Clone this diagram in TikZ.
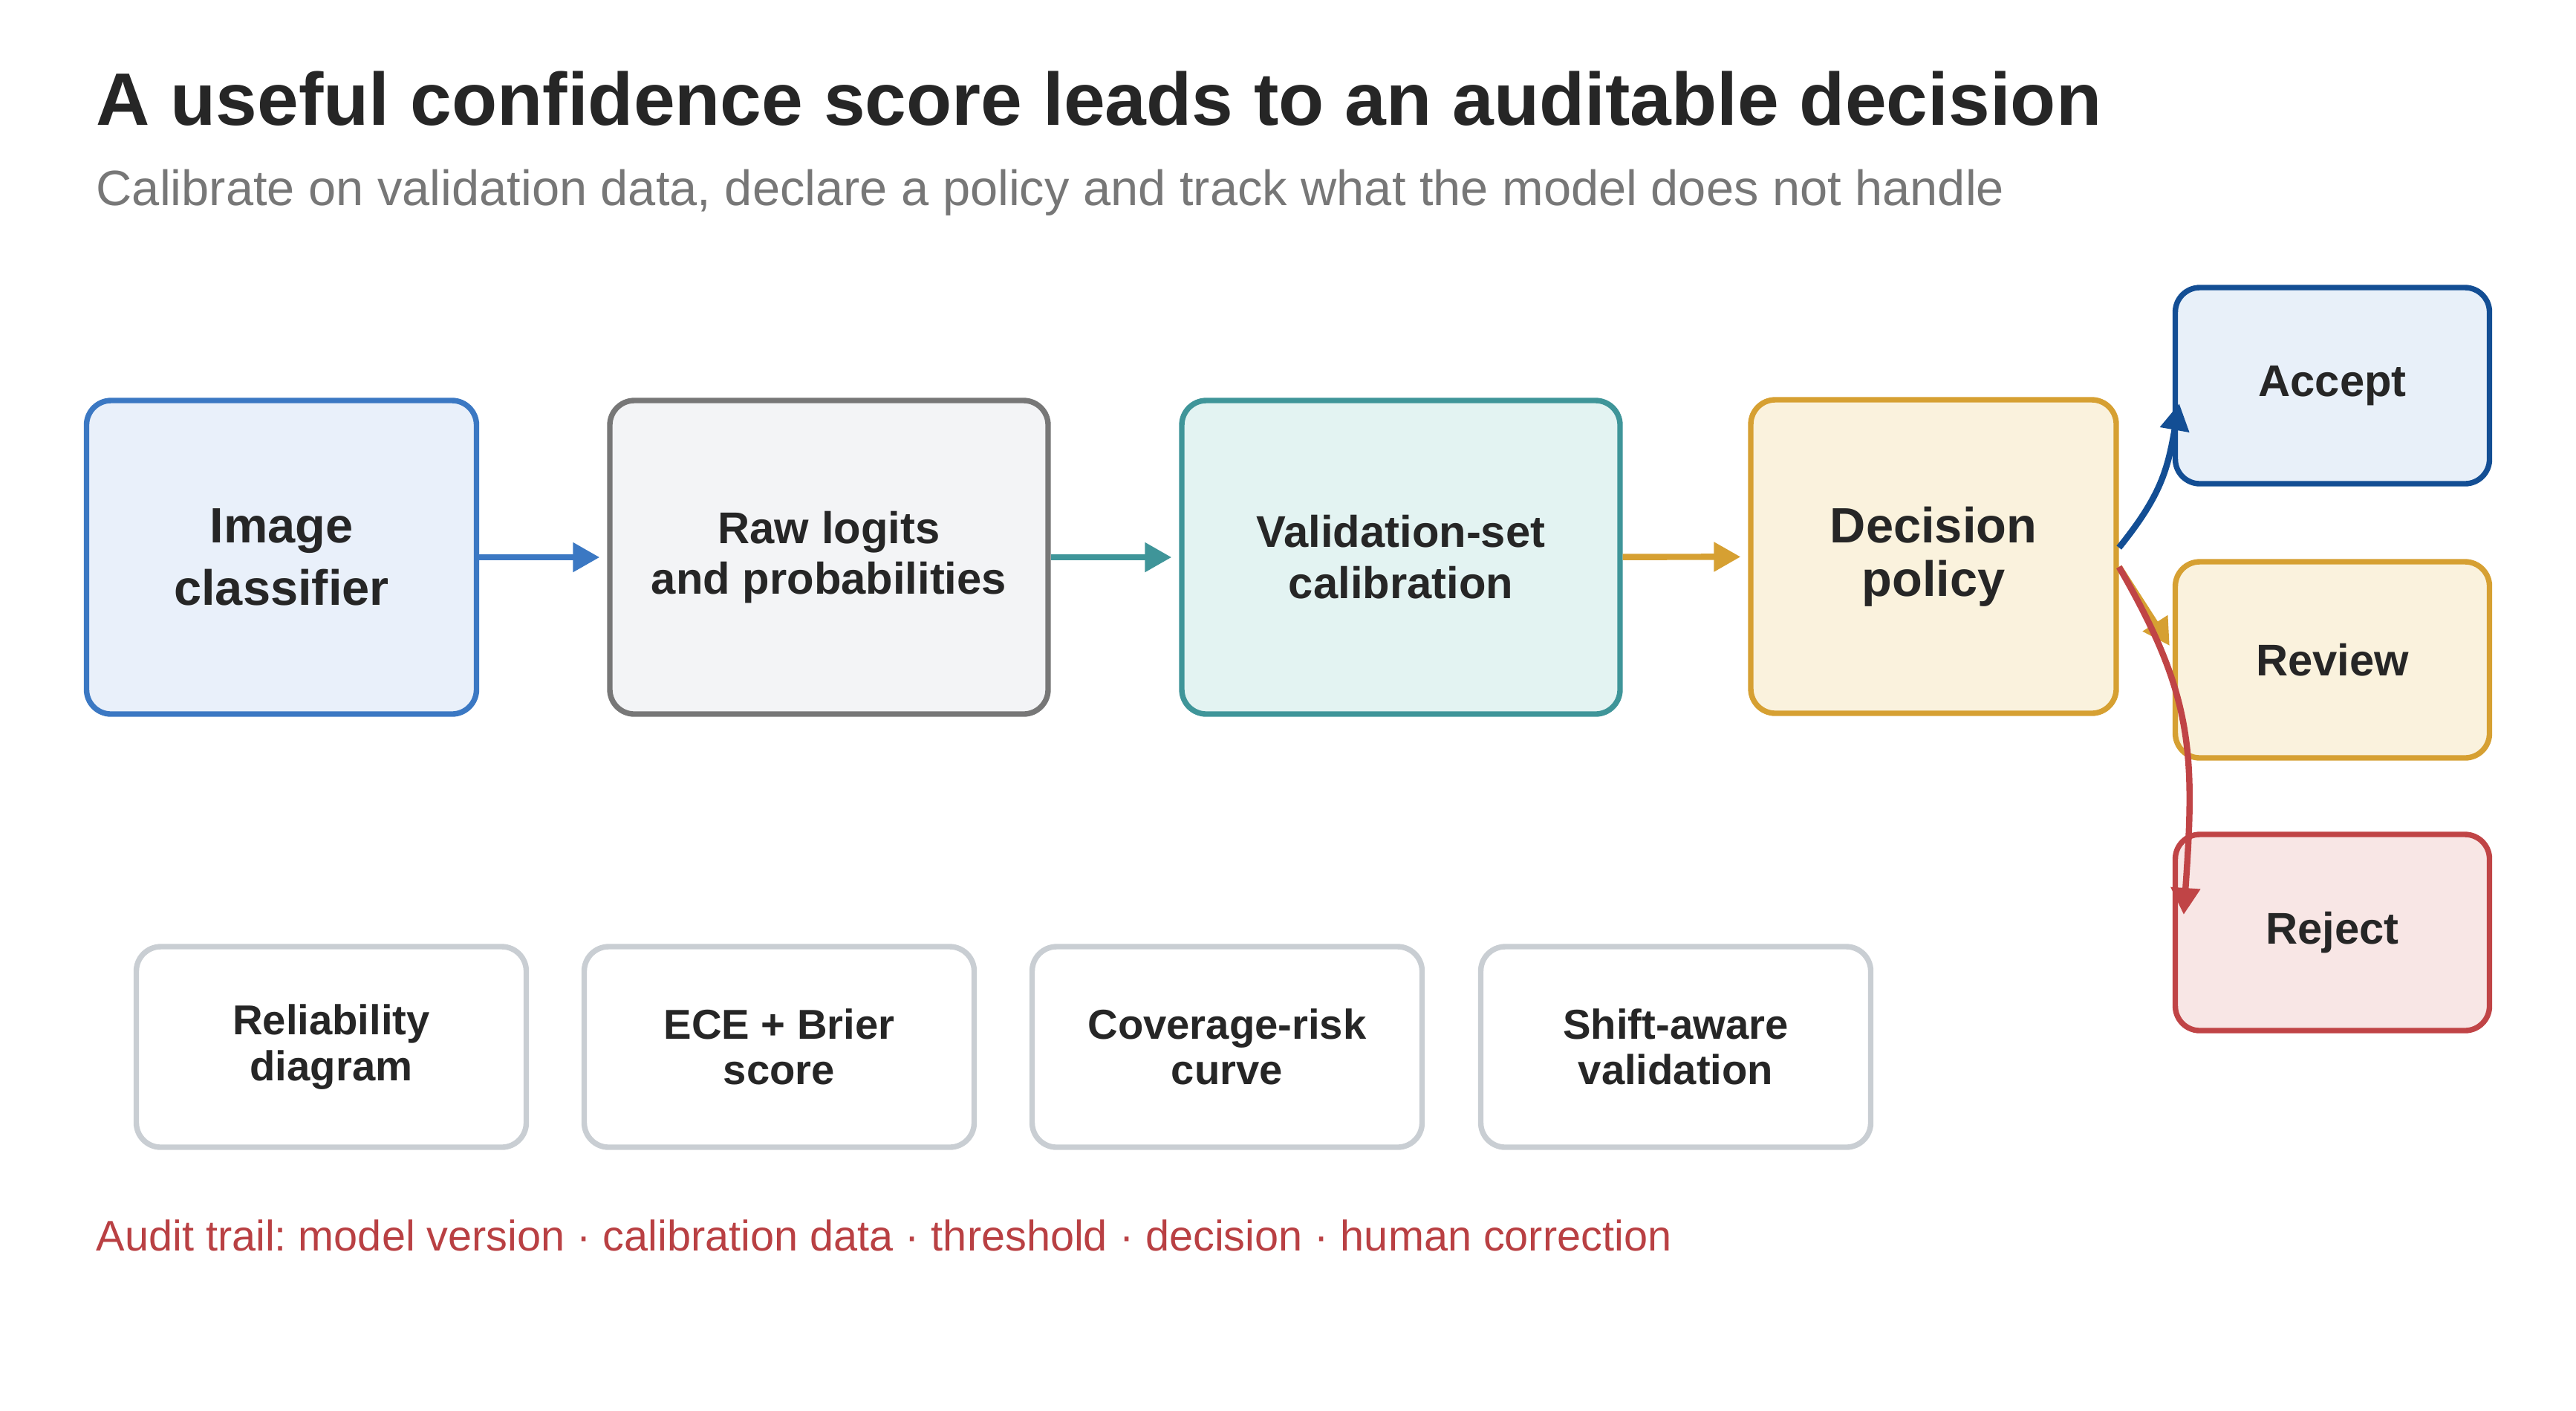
\documentclass[tikz,border=0pt]{standalone}
\usepackage{fontspec}
\setmainfont{Liberation Sans}
\frenchspacing
\usetikzlibrary{arrows.meta}

\definecolor{ink}{HTML}{262626}
\definecolor{subgrey}{HTML}{777777}
\definecolor{clsline}{HTML}{3B78C3}
\definecolor{clsfill}{HTML}{E9F0FA}
\definecolor{rawline}{HTML}{777777}
\definecolor{rawfill}{HTML}{F3F4F6}
\definecolor{calline}{HTML}{3F9599}
\definecolor{calfill}{HTML}{E3F3F2}
\definecolor{decline}{HTML}{D6A032}
\definecolor{decfill}{HTML}{FAF2DD}
\definecolor{accline}{HTML}{134E94}
\definecolor{accfill}{HTML}{E8F0F9}
\definecolor{rejline}{HTML}{C04446}
\definecolor{rejfill}{HTML}{F8E6E5}
\definecolor{metline}{HTML}{C9CED3}
\definecolor{auditred}{HTML}{B94043}

\tikzset{
	box/.style={draw, line width=2.1pt, rounded corners=3.3mm, align=center, text=ink, inner sep=0pt},
	stage/.style={box, minimum height=4.22cm},
	outcome/.style={box, minimum width=4.23cm, minimum height=2.64cm, font=\fontsize{17}{20}\selectfont\bfseries},
	metric/.style={box, draw=metline, fill=white, minimum width=5.25cm, minimum height=2.7cm, font=\fontsize{16}{17.5}\selectfont\bfseries},
	caption/.style={anchor=base west, inner sep=0pt},
	flow/.style={line width=2.4pt, -{Triangle[length=3.6mm,width=3.8mm]}, shorten >=1mm},
}

\begin{document}
\begin{tikzpicture}
		\useasboundingbox (0, 0) rectangle (34.68, -18.98);
		
		%%%%% HEADER %%%%%
		\node[caption, text=ink, font=\fontsize{28.5}{32}\selectfont\bfseries] (title) at (1.29, -1.68) {A useful confidence score leads to an auditable decision};
		\node[caption, text=subgrey, font=\fontsize{19}{22}\selectfont] (subtitle) at (1.29, -2.76) {Calibrate on validation data, declare a policy and track what the model does not handle};
		
		%%%%% MAIN ROW %%%%%
		\node[stage, draw=clsline, fill=clsfill, minimum width=5.25cm, font=\fontsize{19}{23.9}\selectfont\bfseries] (cls) at (3.79, -7.50) {Image\\classifier};
		\node[stage, draw=rawline, fill=rawfill, minimum width=5.90cm, font=\fontsize{17}{19.6}\selectfont\bfseries] (raw) at (11.16, -7.50) {Raw logits\\and probabilities};
		\node[stage, draw=calline, fill=calfill, minimum width=5.90cm, font=\fontsize{17}{19.6}\selectfont\bfseries] (cal) at (18.86, -7.50) {Validation-set\\calibration};
		\node[stage, draw=decline, fill=decfill, minimum width=4.92cm, font=\fontsize{19}{20.5}\selectfont\bfseries] (dec) at (26.03, -7.49) {Decision\\policy};
		
		%%%%% OUTCOMES %%%%%
		\node[outcome, draw=accline, fill=accfill] (acc) at (31.40, -5.19) {Accept};
		\node[outcome, draw=decline, fill=decfill] (rev) at (31.40, -8.88) {Review};
		\node[outcome, draw=rejline, fill=rejfill] (rej) at (31.40, -12.55) {Reject};
		
		%%%%% METRICS %%%%%
		\node[metric] (rel) at (4.46, -14.09) {Reliability\\diagram};
		\node[metric] (ece) at (10.49, -14.09) {ECE + Brier\\score};
		\node[metric] (cov) at (16.52, -14.09) {Coverage-risk\\curve};
		\node[metric] (shift) at (22.56, -14.09) {Shift-aware\\validation};
		
		\node[caption, text=auditred, font=\fontsize{16.4}{18}\selectfont] (audit) at (1.29, -16.83) {Audit trail: model version · calibration data · threshold · decision · human correction};
		
		%%%%% ARROWS %%%%%
		\draw[flow, clsline] (cls) -- (raw);
		\draw[flow, calline] (raw) -- (cal);
		\draw[flow, decline] (cal) -- (dec);
		
		\draw[flow, accline, shorten >=0pt] ([yshift=1.2mm]dec.east) .. controls +(51:0.9) and +(-100:0.9) .. ([xshift=0.9mm, yshift=-2.4mm]acc.west);
		\draw[flow, decline, shorten >=0pt] ([yshift=-1.4mm]dec.east) -- ([xshift=-0.4mm, yshift=1.9mm]rev.west);
		\draw[flow, rejline, shorten >=0pt] ([yshift=-1.4mm]dec.east) .. controls +(-60:2.0) and +(86:2.2) .. ([xshift=1.5mm, yshift=2.4mm]rej.west);
		
	\end{tikzpicture}
\end{document}
